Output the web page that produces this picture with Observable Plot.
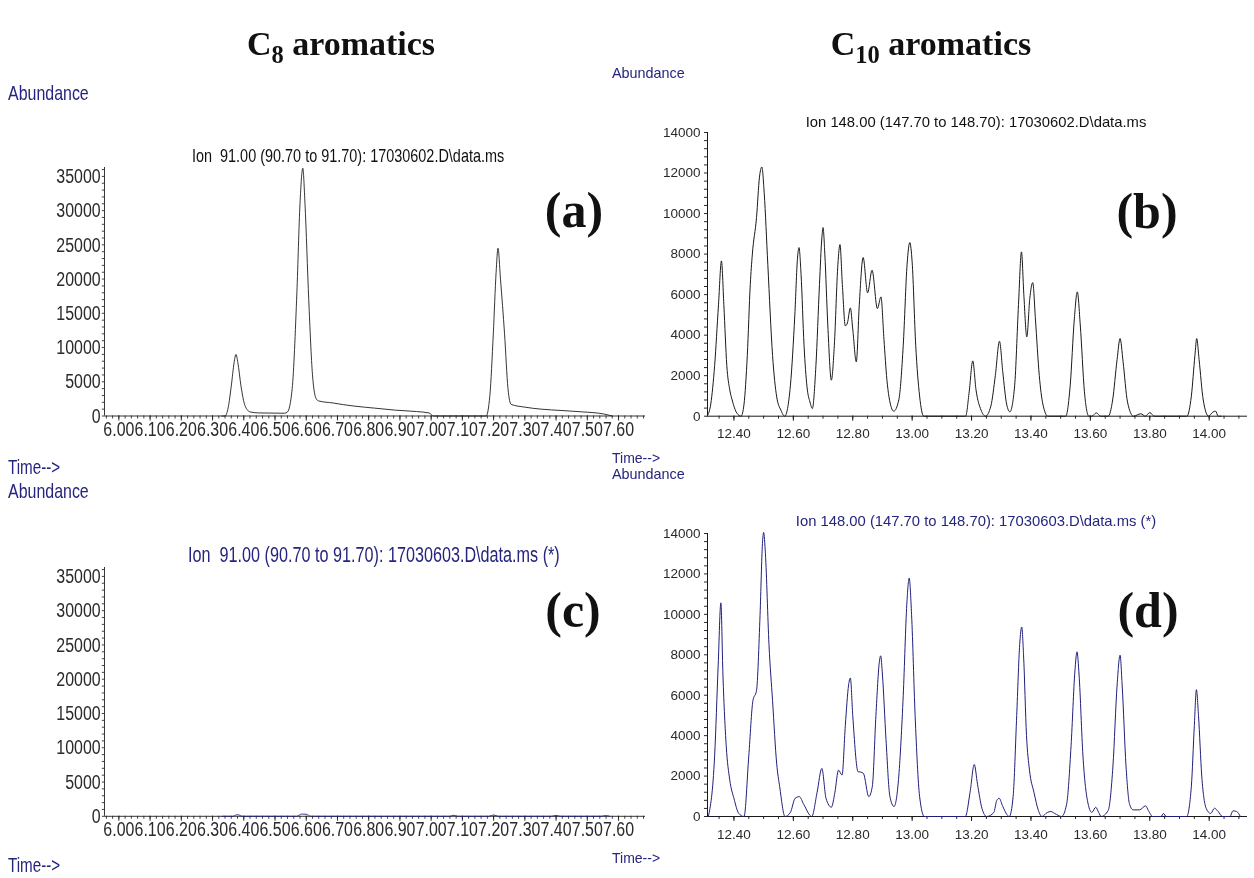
<!DOCTYPE html>
<html><head><meta charset="utf-8">
<script src="https://cdn.jsdelivr.net/npm/d3@7"></script>
<script src="https://cdn.jsdelivr.net/npm/@observablehq/plot@0.6"></script>
<style>
html,body{margin:0;padding:0;background:#fff;}
#page{position:relative;width:1254px;height:878px;overflow:hidden;background:#fff;font-family:Arial,"Liberation Sans",sans-serif;}
.abs{position:absolute;white-space:pre;line-height:1;}
#left{position:absolute;left:0;top:0;width:868px;height:878px;transform:scaleX(0.76);transform-origin:0 0;}
.navy{color:#25257f;}
.blk{color:#111;}
.hdr{font-family:"Liberation Serif","Times New Roman",serif;font-weight:bold;font-size:34px;color:#111;}
.hdr sub{font-size:0.72em;vertical-align:-0.32em;line-height:0;}
.tag{font-family:"Liberation Serif","Times New Roman",serif;font-weight:bold;font-size:50px;color:#111;}
.ctr{text-align:center;width:1000px;}
.holder{position:absolute;}
</style></head>
<body><div id="page">
  <div id="left">
    <div class="holder" id="pa" style="left:0;top:100px;width:868px;height:360px;"></div>
    <div class="holder" id="pc" style="left:0;top:500px;width:868px;height:360px;"></div>
    <div class="abs navy" style="left:10.5px;top:81.5px;font-size:21px;">Abundance</div>
    <div class="abs navy" style="left:10.5px;top:457px;font-size:20px;">Time--&gt;</div>
    <div class="abs navy" style="left:10.5px;top:479.5px;font-size:21px;">Abundance</div>
    <div class="abs navy" style="left:10.5px;top:854px;font-size:20px;line-height:22px;">Time--&gt;</div>
    <div class="abs blk ctr" id="ta" style="left:-42px;top:145.5px;font-size:19px;"></div>
    <div class="abs navy ctr" id="tc" style="left:-8px;top:544.5px;font-size:21.3px;"></div>
  </div>
  <div class="holder" id="pb" style="left:640px;top:100px;width:614px;height:360px;"></div>
  <div class="holder" id="pd" style="left:640px;top:500px;width:614px;height:360px;"></div>
  <div class="abs navy" style="left:612px;top:65.8px;font-size:14.4px;">Abundance</div>
  <div class="abs navy" style="left:612px;top:466.8px;font-size:14.4px;">Abundance</div>
  <div class="abs navy" style="left:612px;top:451px;font-size:14px;">Time--&gt;</div>
  <div class="abs navy" style="left:612px;top:851px;font-size:14px;">Time--&gt;</div>
  <div class="abs blk ctr" id="tb" style="left:476px;top:114.6px;font-size:14.8px;"></div>
  <div class="abs navy ctr" id="td" style="left:476px;top:513.6px;font-size:14.8px;"></div>
  <div class="abs hdr ctr" style="left:-159px;top:27px;">C<sub>8</sub> aromatics</div>
  <div class="abs hdr ctr" style="left:431px;top:27px;">C<sub>10</sub> aromatics</div>
  <div class="abs tag ctr" style="left:74px;top:185px;">(a)</div>
  <div class="abs tag ctr" style="left:647px;top:186px;">(b)</div>
  <div class="abs tag ctr" style="left:73px;top:585px;">(c)</div>
  <div class="abs tag ctr" style="left:648px;top:585px;">(d)</div>
</div>
<script>
// ---------- titles ----------
const panelTitles = {
  a: "Ion  91.00 (90.70 to 91.70): 17030602.D\\data.ms",
  b: "Ion 148.00 (147.70 to 148.70): 17030602.D\\data.ms",
  c: "Ion  91.00 (90.70 to 91.70): 17030603.D\\data.ms (*)",
  d: "Ion 148.00 (147.70 to 148.70): 17030603.D\\data.ms (*)"
};

// ---------- tick labels ----------
const c8TimeLabels = ["6.00","6.10","6.20","6.30","6.40","6.50","6.60","6.70","6.80","6.90","7.00","7.10","7.20","7.30","7.40","7.50","7.60"];
const c8AbundLabels = [0,5000,10000,15000,20000,25000,30000,35000];
const c10TimeLabels = ["12.40","12.60","12.80","13.00","13.20","13.40","13.60","13.80","14.00"];
const c10AbundLabels = [0,2000,4000,6000,8000,10000,12000,14000];

// ---------- traces: [retention time (min), abundance] ----------
const traceA = [[6.330,0],[6.340,0],[6.350,1200],[6.360,4400],[6.369,7800],[6.375,9000],[6.381,7800],[6.391,4400],[6.404,1500],[6.420,600],[6.447,450],[6.500,420],[6.530,400],[6.540,600],[6.555,4000],[6.570,18000],[6.580,31000],[6.589,36200],[6.596,31000],[6.608,17000],[6.620,6000],[6.632,2500],[6.640,2200],[6.686,1900],[6.720,1650],[6.753,1450],[6.819,1150],[6.886,850],[6.953,650],[6.993,450],[7.008,0],[7.176,0],[7.188,3000],[7.199,12000],[7.208,21000],[7.214,24500],[7.222,20000],[7.235,12000],[7.246,4000],[7.256,1700],[7.299,1300],[7.352,1000],[7.419,800],[7.485,600],[7.552,300],[7.579,0]];

const traceC = [[6.330,0],[6.365,0],[6.380,250],[6.395,0],[6.570,0],[6.585,320],[6.600,300],[6.615,0],[7.060,0],[7.072,150],[7.085,0],[7.185,0],[7.200,200],[7.215,0],[7.385,0],[7.400,120],[7.415,0],[7.545,0],[7.558,100],[7.572,0]];

const traceB = [[12.310,0],[12.322,600],[12.335,2500],[12.348,5500],[12.358,7664],[12.366,5500],[12.376,2500],[12.386,1300],[12.394,800],[12.410,150],[12.424,0],[12.434,600],[12.445,3000],[12.455,6500],[12.462,8000],[12.476,9800],[12.486,11800],[12.494,12300],[12.502,11000],[12.514,7500],[12.530,3000],[12.544,950],[12.558,300],[12.571,0],[12.590,1500],[12.605,5000],[12.614,7800],[12.619,8322],[12.626,7000],[12.636,3500],[12.646,1447],[12.656,700],[12.664,378],[12.676,2500],[12.688,6500],[12.696,8800],[12.700,9309],[12.706,8000],[12.716,4500],[12.728,1776],[12.738,3500],[12.750,7500],[12.757,8470],[12.765,6500],[12.775,4457],[12.782,4600],[12.792,5345],[12.800,4300],[12.812,2681],[12.822,5500],[12.835,7829],[12.850,6086],[12.865,7204],[12.883,5312],[12.895,5888],[12.905,3800],[12.915,1800],[12.922,954],[12.938,247],[12.955,800],[12.970,3500],[12.983,7500],[12.992,8569],[13.000,7600],[13.012,3500],[13.025,1000],[13.039,0],[13.180,0],[13.192,1200],[13.204,2730],[13.215,1300],[13.232,300],[13.247,0],[13.265,500],[13.280,2000],[13.294,3700],[13.305,2200],[13.318,600],[13.329,214],[13.345,1500],[13.358,5500],[13.368,8109],[13.376,6000],[13.386,3914],[13.396,5800],[13.406,6595],[13.415,4800],[13.428,2000],[13.440,600],[13.457,0],[13.517,0],[13.532,1500],[13.546,4800],[13.556,6135],[13.566,4500],[13.580,1200],[13.595,0],[13.605,0],[13.620,164],[13.635,0],[13.660,0],[13.675,800],[13.690,2800],[13.700,3832],[13.710,2700],[13.725,700],[13.745,0],[13.770,120],[13.785,0],[13.800,180],[13.815,0],[13.925,0],[13.940,1000],[13.952,3000],[13.958,3832],[13.966,2800],[13.980,800],[13.998,0],[14.012,200],[14.022,247],[14.030,0],[14.040,0]];

const traceD = [[12.314,0],[12.335,3000],[12.347,7500],[12.356,10570],[12.363,7000],[12.374,3500],[12.386,1800],[12.400,900],[12.416,160],[12.434,0],[12.450,3000],[12.464,5736],[12.476,6228],[12.488,10000],[12.496,13500],[12.500,14054],[12.506,13000],[12.518,8500],[12.530,5736],[12.544,2600],[12.554,1475],[12.572,0],[12.590,200],[12.606,900],[12.620,983],[12.635,600],[12.662,0],[12.680,1200],[12.696,2377],[12.710,900],[12.728,459],[12.740,1200],[12.752,2295],[12.764,2049],[12.775,4500],[12.786,6500],[12.792,6851],[12.800,5000],[12.818,2213],[12.826,2200],[12.836,2131],[12.854,983],[12.866,1500],[12.878,5000],[12.890,7700],[12.894,7949],[12.900,7000],[12.912,3800],[12.925,1000],[12.939,492],[12.955,2000],[12.970,6000],[12.982,10500],[12.990,11794],[12.998,10000],[13.010,5000],[13.025,1000],[13.041,0],[13.179,0],[13.195,1200],[13.209,2573],[13.220,1600],[13.235,400],[13.251,0],[13.275,200],[13.285,800],[13.293,901],[13.305,500],[13.327,0],[13.340,1000],[13.352,5000],[13.362,8500],[13.369,9375],[13.375,8000],[13.385,4000],[13.395,2295],[13.410,1200],[13.425,300],[13.437,0],[13.455,200],[13.467,246],[13.480,150],[13.503,0],[13.520,600],[13.535,3500],[13.548,7200],[13.555,8146],[13.562,7000],[13.575,3000],[13.590,800],[13.605,200],[13.618,459],[13.628,200],[13.636,0],[13.660,300],[13.676,2500],[13.690,6500],[13.700,7982],[13.707,6500],[13.720,2500],[13.732,600],[13.744,328],[13.765,328],[13.786,524],[13.795,300],[13.810,0],[13.838,0],[13.846,150],[13.855,0],[13.924,0],[13.940,1500],[13.950,4500],[13.957,6277],[13.964,5000],[13.975,2000],[13.990,400],[14.005,150],[14.018,410],[14.030,250],[14.045,0],[14.070,0],[14.080,280],[14.092,250],[14.105,0]];

// ---------- drawing ----------
const ink = "#1a1a1a", navy = "#1f1f7a", labelInk = "#2a2a2a";

function chromatogram(o) {
  const xSet = new Set(o.xLabels);
  const ySet = new Set(o.yLabels);
  return Plot.plot({
    width: o.width, height: 360,
    marginLeft: o.ml, marginRight: o.mr, marginTop: o.mt, marginBottom: o.mb,
    style: {background: "transparent", fontFamily: "Arial, 'Liberation Sans', sans-serif", fontSize: o.fontSize, color: labelInk, overflow: "visible"},
    x: {domain: o.xDomain, ticks: o.xMinor, tickFormat: d => { const s = d.toFixed(2); return xSet.has(s) ? s : ""; }, tickSize: 3, tickPadding: o.xPad, label: null},
    y: {domain: [0, o.yMax], ticks: o.yMinor, tickFormat: d => ySet.has(d) ? String(d) : "", tickSize: 3, tickPadding: o.yPad, label: null},
    marks: [
      Plot.ruleX(o.xLabels.map(Number), {x: d => d, y1: 0, y2: 0, insetBottom: -5, stroke: ink}),
      Plot.ruleY([0], {stroke: ink}),
      Plot.ruleX([o.xDomain[0]], {stroke: ink}),
      Plot.line(o.trace, {x: d => d[0], y: d => d[1], stroke: o.stroke, strokeWidth: 1, curve: "monotone-x"})
    ]
  });
}

const c8XMinor = d3.range(298, 385).map(i => i / 50);
const c8YMinor = d3.range(0, 36001, 1000);
const c10XMinor = d3.range(247, 283).map(i => i / 20);
const c10YMinor = d3.range(0, 14001, 400);

const c8Common = {width: 868, ml: 137, mr: 19.3, mt: 67, mb: 44.5, fontSize: "21px", xPad: 2, yPad: 2,
  xDomain: [5.954, 7.686], yMax: 36300, xMinor: c8XMinor, yMinor: c8YMinor, xLabels: c8TimeLabels, yLabels: c8AbundLabels};
const c10Common = {width: 614, ml: 67, mr: 7, fontSize: "13.5px", xPad: 9.6, yPad: 4,
  xDomain: [12.311, 14.129], yMax: 14000, xMinor: c10XMinor, yMinor: c10YMinor, xLabels: c10TimeLabels, yLabels: c10AbundLabels};

document.getElementById("pa").append(chromatogram({...c8Common, trace: traceA, stroke: ink}));
document.getElementById("pc").append(chromatogram({...c8Common, mt: 67, mb: 44.2, trace: traceC, stroke: navy}));
document.getElementById("pb").append(chromatogram({...c10Common, mt: 32, mb: 44.3, trace: traceB, stroke: ink}));
document.getElementById("pd").append(chromatogram({...c10Common, mt: 33, mb: 44, trace: traceD, stroke: navy}));

document.getElementById("ta").textContent = panelTitles.a;
document.getElementById("tb").textContent = panelTitles.b;
document.getElementById("tc").textContent = panelTitles.c;
document.getElementById("td").textContent = panelTitles.d;
</script>
</body></html>
